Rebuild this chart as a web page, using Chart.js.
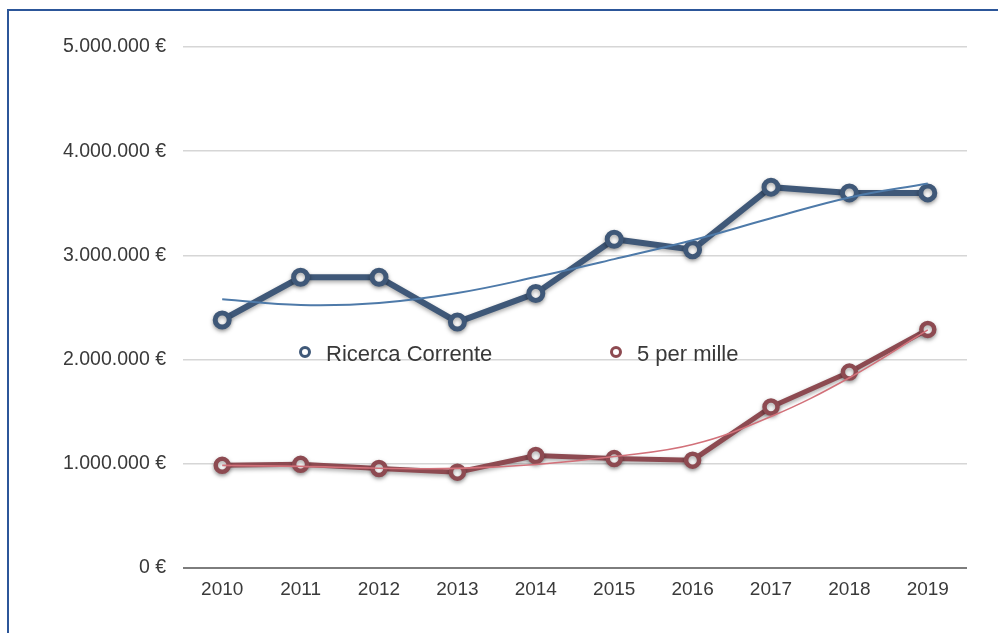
<!DOCTYPE html>
<html>
<head>
<meta charset="utf-8">
<script src="https://cdn.jsdelivr.net/npm/chart.js@4/dist/chart.umd.min.js"></script>
<style>
  html, body { margin: 0; padding: 0; background: #ffffff; }
  #wrap { position: relative; width: 998px; height: 633px; overflow: hidden; }
  #chart { position: absolute; left: 0; top: 0; }
  #frame {
    position: absolute; left: 7px; top: 9px; width: 1200px; height: 800px;
    border-left: 2px solid #2c5699; border-top: 2px solid #2c5699;
    pointer-events: none;
  }
</style>
</head>
<body>
<div id="wrap">
  <canvas id="chart" width="998" height="633"></canvas>
  <div id="frame"></div>
</div>
<script>
// Anni
const years = ['2010', '2011', '2012', '2013', '2014', '2015', '2016', '2017', '2018', '2019'];

// Finanziamenti annui (€)
const ricercaCorrente = [2380000, 2790000, 2790000, 2360000, 2635000, 3155000, 3055000, 3655000, 3600000, 3600000];
const cinquePerMille  = [985000, 995000, 955000, 920000, 1080000, 1050000, 1035000, 1545000, 1880000, 2290000];

// Linee di tendenza
const trendRicerca = [2578000, 2524000, 2543000, 2639000, 2792000, 2964000, 3145000, 3356000, 3556000, 3690000];
const trendCinque  = [985000, 975000, 958000, 956000, 994000, 1070000, 1185000, 1453000, 1826000, 2285000];

// Etichette dell'asse Y
const yTickValues = [0, 1000000, 2000000, 3000000, 4000000, 5000000];
const seriesNames = ['Ricerca Corrente', '5 per mille'];

const BLUE = '#3f5878';
const RED = '#8d4a51';
const FONT = '"Liberation Sans", Arial, Helvetica, sans-serif';

function euro(v) {
  return String(Math.round(v)).replace(/\B(?=(\d{3})+(?!\d))/g, '.') + ' €';
}

// Ombra leggera sotto le serie principali
const shadowPlugin = {
  id: 'seriesShadow',
  beforeDatasetDraw(chart, args) {
    const ds = chart.data.datasets[args.index];
    chart.ctx.save();
    if (ds.withShadow) {
      chart.ctx.shadowColor = 'rgba(0,0,0,0.35)';
      chart.ctx.shadowBlur = 4;
      chart.ctx.shadowOffsetX = 0;
      chart.ctx.shadowOffsetY = 2;
    }
  },
  afterDatasetDraw(chart) {
    chart.ctx.restore();
  }
};

// Legenda disegnata all'interno dell'area del grafico
const inlineLegend = {
  id: 'inlineLegend',
  afterDatasetsDraw(chart) {
    const ctx = chart.ctx;
    const items = [
      { name: seriesNames[0], color: BLUE, x: 305 },
      { name: seriesNames[1], color: RED, x: 616 }
    ];
    const y = 352;
    ctx.save();
    items.forEach(it => {
      ctx.beginPath();
      ctx.arc(it.x, y, 4.5, 0, Math.PI * 2);
      ctx.fillStyle = '#ffffff';
      ctx.fill();
      ctx.lineWidth = 3;
      ctx.strokeStyle = it.color;
      ctx.stroke();
      ctx.fillStyle = '#383838';
      ctx.font = '22px ' + FONT;
      ctx.textAlign = 'left';
      ctx.textBaseline = 'alphabetic';
      ctx.fillText(it.name, it.x + 21, y + 9);
    });
    ctx.restore();
  }
};

new Chart(document.getElementById('chart'), {
  type: 'line',
  data: {
    labels: years,
    datasets: [
      {
        label: 'Tendenza Ricerca Corrente',
        data: trendRicerca,
        borderColor: '#4e7aa9',
        borderWidth: 2,
        pointRadius: 0,
        tension: 0.4,
        fill: false,
        order: 0
      },
      {
        label: 'Tendenza 5 per mille',
        data: trendCinque,
        borderColor: '#d2717a',
        borderWidth: 1.6,
        pointRadius: 0,
        tension: 0.4,
        fill: false,
        order: 0
      },
      {
        label: seriesNames[0],
        data: ricercaCorrente,
        borderColor: BLUE,
        borderWidth: 6,
        pointRadius: 7,
        pointBorderWidth: 5,
        pointBackgroundColor: '#ffffff',
        pointBorderColor: BLUE,
        tension: 0,
        fill: false,
        withShadow: true,
        order: 1
      },
      {
        label: seriesNames[1],
        data: cinquePerMille,
        borderColor: RED,
        borderWidth: 5,
        pointRadius: 6.5,
        pointBorderWidth: 4.5,
        pointBackgroundColor: '#ffffff',
        pointBorderColor: RED,
        tension: 0,
        fill: false,
        withShadow: true,
        order: 1
      }
    ]
  },
  options: {
    responsive: false,
    animation: false,
    layout: { padding: { top: 47, right: 31, left: 0, bottom: 0 } },
    plugins: {
      legend: { display: false },
      tooltip: { enabled: false }
    },
    scales: {
      x: {
        offset: true,
        grid: { display: false, drawTicks: false },
        border: { display: false },
        ticks: {
          color: '#3a3a3a',
          font: { family: FONT, size: 19 },
          padding: 10,
          maxRotation: 0
        },
        afterFit(scale) { scale.height = 65; }
      },
      y: {
        min: 0,
        max: 5000000,
        afterBuildTicks(scale) {
          scale.ticks = yTickValues.map(v => ({ value: v }));
        },
        grid: {
          drawTicks: false,
          color: ctx => ctx.tick && ctx.tick.value === 0 ? '#7d7d7d' : '#d6d6d6',
          lineWidth: ctx => ctx.tick && ctx.tick.value === 0 ? 2 : 1.5
        },
        border: { display: false },
        ticks: {
          color: '#3a3a3a',
          font: { family: FONT, size: 19.5 },
          padding: 17,
          callback: v => euro(v)
        },
        afterFit(scale) { scale.width = 183; }
      }
    }
  },
  plugins: [shadowPlugin, inlineLegend]
});
</script>
</body>
</html>
